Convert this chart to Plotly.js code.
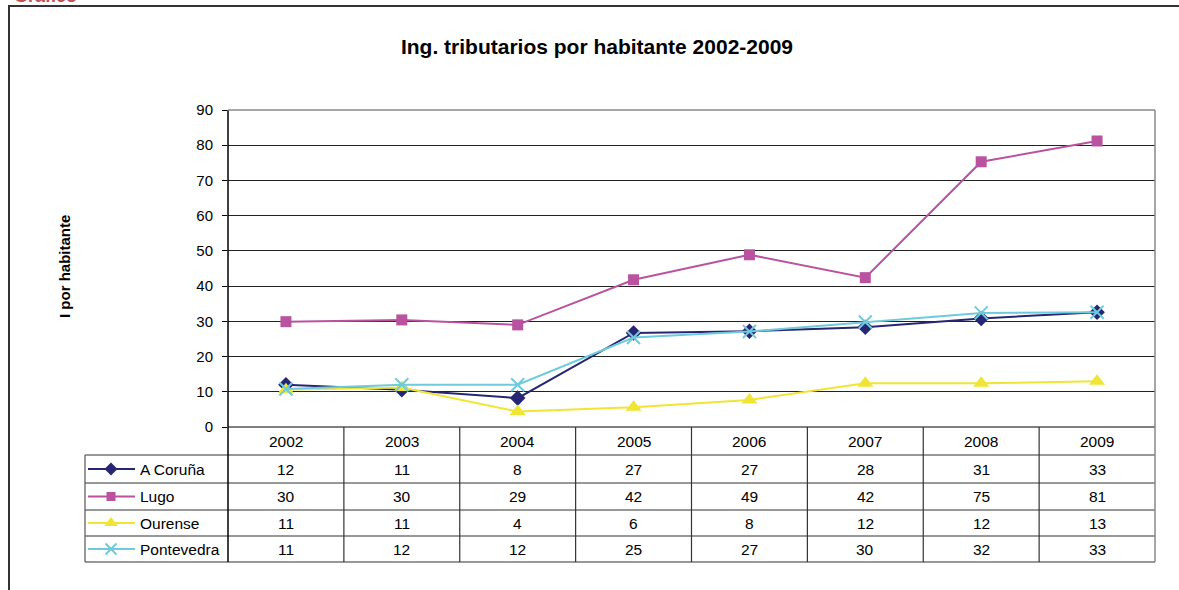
<!DOCTYPE html>
<html>
<head>
<meta charset="utf-8">
<script src="https://cdn.plot.ly/plotly-3.0.1.min.js"></script>
<style>html,body{margin:0;padding:0;background:#fff;}#chart{width:1179px;height:590px;}</style>
</head>
<body>
<div id="chart"></div>
<script>
// ---- data ----
const years = ['2002','2003','2004','2005','2006','2007','2008','2009'];
const seriesNames = ['A Coruña','Lugo','Ourense','Pontevedra'];
const aCoruna    = [12.0, 10.6, 8.2, 26.7, 27.2, 28.3, 30.8, 32.6];
const lugo       = [29.9, 30.4, 29.0, 41.8, 48.9, 42.4, 75.3, 81.2];
const ourense    = [10.6, 11.2, 4.4, 5.6, 7.7, 12.4, 12.4, 13.0];
const pontevedra = [10.8, 12.0, 12.0, 25.4, 27.1, 29.8, 32.4, 32.6];
const yTicks = [0,10,20,30,40,50,60,70,80,90];
const chartTitle = 'Ing. tributarios por habitante 2002-2009';
const yTitle = 'I por habitante';

// ---- styles ----
const W = 1179, H = 590;
const plotL = 228, plotR = 1155, plotT = 110, plotB = 427;
const rowEdges = [427, 455, 483, 510, 536, 562];
const legendL = 85;
const FONT = 'Liberation Sans, Arial, sans-serif';
const TFS = 15.5;
const styles = [
  {color:'#262673', symbol:'diamond', size:12},
  {color:'#b9539f', symbol:'square', size:11},
  {color:'#f0e535', symbol:'triangle-up', size:14},
  {color:'#6fcbdc', symbol:'x-thin-open', size:13}
];
const allSeries = [aCoruna, lugo, ourense, pontevedra];
const py = p => 1 - p / H; // pixel row -> paper (margins are zero)

const traces = [];
allSeries.forEach((vals, i) => {
  const st = styles[i];
  traces.push({
    type:'scatter', mode:'lines+markers', name:seriesNames[i],
    x:years, y:vals, xaxis:'x', yaxis:'y',
    line:{color:st.color, width:2},
    marker:{symbol:st.symbol, size:st.size, color:st.color, line:{color:st.color, width: st.symbol==='x-thin-open'?2:0}},
    cliponaxis:false, showlegend:false, hoverinfo:'skip'
  });
});

const shapes = [];
const annotations = [];
allSeries.forEach((vals, i) => {
  const st = styles[i];
  const cy = (rowEdges[i+1] + rowEdges[i+2]) / 2;
  traces.push({
    type:'scatter', mode:'lines', x:[88,135], y:[cy,cy], xaxis:'x2', yaxis:'y2',
    line:{color:st.color, width:2}, showlegend:false, hoverinfo:'skip', cliponaxis:false
  });
  traces.push({
    type:'scatter', mode:'markers', x:[111], y:[cy], xaxis:'x2', yaxis:'y2',
    marker:{symbol:st.symbol, size:st.size-2, color:st.color, line:{color:st.color, width: st.symbol==='x-thin-open'?2:0}},
    showlegend:false, hoverinfo:'skip', cliponaxis:false
  });
  annotations.push({xref:'x2', yref:'y2', x:138, y:cy, text:seriesNames[i], showarrow:false,
    xanchor:'left', yanchor:'middle', font:{family:FONT, size:TFS, color:'#000'}});
  vals.forEach((v, j) => {
    annotations.push({xref:'x', yref:'paper', x:j, y:py(cy), text:String(Math.round(v)), showarrow:false,
      xanchor:'center', yanchor:'middle', font:{family:FONT, size:TFS, color:'#000'}});
  });
});
years.forEach((yr, j) => {
  annotations.push({xref:'x', yref:'paper', x:j, y:py((rowEdges[0]+rowEdges[1])/2), text:yr, showarrow:false,
    xanchor:'center', yanchor:'middle', font:{family:FONT, size:TFS, color:'#000'}});
});
annotations.push({xref:'x2', yref:'y2', x:64, y:267, text:'<b>'+yTitle+'</b>', textangle:-90, showarrow:false,
  xanchor:'center', yanchor:'middle', font:{family:FONT, size:15, color:'#000'}});
annotations.push({xref:'x2', yref:'y2', x:12, y:8, text:'<b>Gráfico</b>', showarrow:false,
  xanchor:'left', yanchor:'bottom', font:{family:FONT, size:18, color:'#c0504d'}});

const lineCol = '#333';
function ln(x0,y0,x1,y1,col,w){ shapes.push({type:'line', xref:'x2', yref:'y2', x0:x0,y0:y0,x1:x1,y1:y1, line:{color:col||lineCol, width:w||1}, layer:'above'}); }
ln(plotL, rowEdges[0], plotR, rowEdges[0], '#000', 1);
for (let k=1; k<rowEdges.length; k++) ln(legendL, rowEdges[k], plotR, rowEdges[k], lineCol, 1.2);
ln(legendL, rowEdges[1], legendL, rowEdges[5], '#555', 1.2);
for (let j=1; j<years.length; j++) {
  shapes.push({type:'line', xref:'x', yref:'paper', x0:j-0.5, x1:j-0.5, y0:py(rowEdges[0]), y1:py(rowEdges[5]), line:{color:lineCol, width:1.2}, layer:'above'});
}
ln(plotL, plotT, plotL, rowEdges[5], '#000', 1.5);
ln(plotR, plotT, plotR, rowEdges[5], '#888', 1.5);
ln(plotL, plotT, plotR, plotT, '#888', 1.5);
shapes.push({type:'rect', xref:'x2', yref:'y2', x0:9, y0:6, x1:1190, y1:600, line:{color:'#333', width:2}, fillcolor:'rgba(0,0,0,0)', layer:'above'});

const layout = {
  width:W, height:H, margin:{l:0,r:0,t:0,b:0},
  paper_bgcolor:'#fff', plot_bgcolor:'rgba(0,0,0,0)',
  title:{text:'<b>'+chartTitle+'</b>', font:{family:FONT, size:21, color:'#000'},
    xref:'container', yref:'container', x:597/W, xanchor:'center', y:1-47/H, yanchor:'middle'},
  xaxis:{domain:[plotL/W, plotR/W], type:'category', range:[-0.5, 7.5], showticklabels:false,
    showgrid:false, zeroline:false, showline:false, ticks:'', fixedrange:true},
  yaxis:{domain:[1-plotB/H, 1-plotT/H], range:[0,90], tickvals:yTicks, ticktext:yTicks.map(String),
    showgrid:true, gridcolor:'#222', gridwidth:1, zeroline:false, showline:false,
    ticks:'outside', ticklen:5, tickcolor:'#000', tickwidth:1, ticklabelstandoff:6,
    tickfont:{family:FONT, size:15, color:'#000'}, fixedrange:true},
  xaxis2:{domain:[0,1], anchor:'y2', range:[0,W], visible:false, fixedrange:true},
  yaxis2:{domain:[0,1], anchor:'x2', range:[H,0], visible:false, fixedrange:true},
  shapes:shapes, annotations:annotations, showlegend:false
};
Plotly.newPlot('chart', traces, layout, {staticPlot:true, displayModeBar:false});
</script>
</body>
</html>
